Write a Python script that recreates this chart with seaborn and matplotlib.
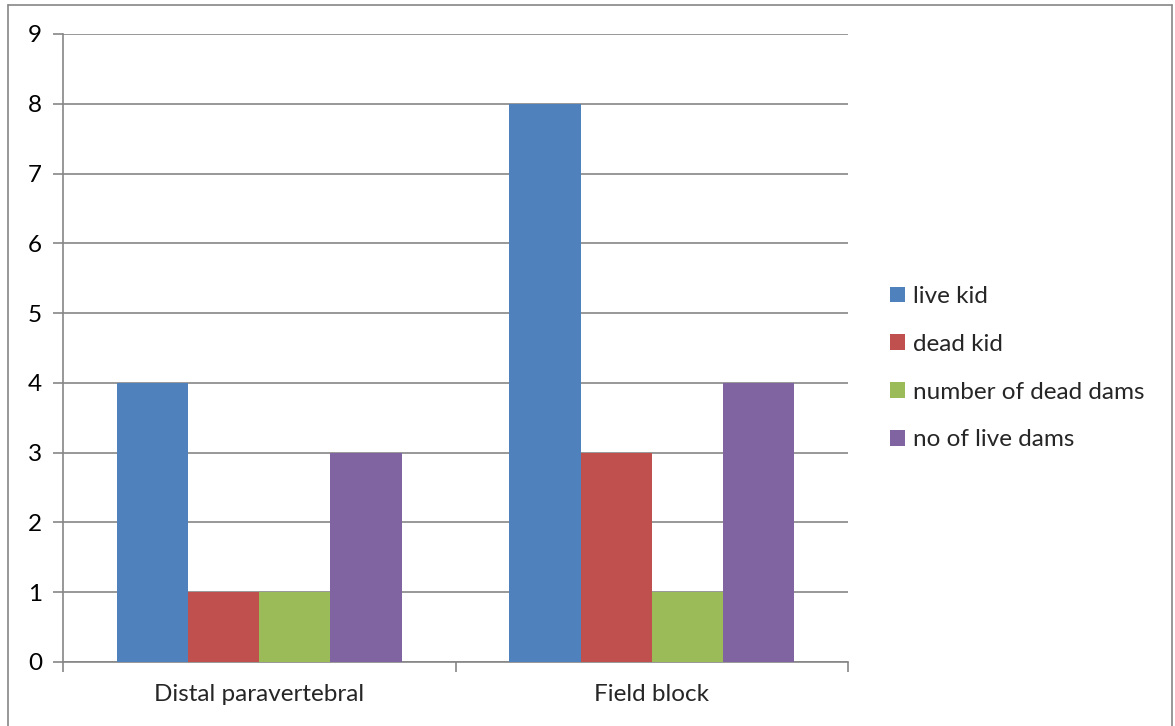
import matplotlib
matplotlib.use("Agg")
import matplotlib.pyplot as plt
import seaborn as sns
import pandas as pd
from matplotlib.patches import Patch
from matplotlib.lines import Line2D

categories = ["Distal paravertebral", "Field block"]
series = ["live kid", "dead kid", "number of dead dams", "no of live dams"]
live_kid = [4, 8]
dead_kid = [1, 3]
dead_dams = [1, 1]
live_dams = [3, 4]
colors = ["#4F81BD", "#C0504D", "#9BBB59", "#8064A2"]

rows = []
for s, vals in zip(series, [live_kid, dead_kid, dead_dams, live_dams]):
    for c, v in zip(categories, vals):
        rows.append({"category": c, "series": s, "value": v})
df = pd.DataFrame(rows)

sns.set_style("white")
plt.rcParams["font.family"] = ["Lato", "DejaVu Sans"]
FS = 17.5

W, H = 1175, 726
fig = plt.figure(figsize=(W / 100, H / 100), dpi=100)
ax = fig.add_axes([63 / W, 1 - 662 / H, (848 - 63) / W, (662 - 34) / H])

sns.barplot(data=df, x="category", y="value", hue="series", hue_order=series,
            order=categories, palette=colors, width=0.725, saturation=1,
            linewidth=0, legend=False, ax=ax, zorder=3)

ax.set_xlim(-0.5, 1.5)
ax.set_ylim(0, 9)
ax.set_yticks(range(0, 10))
ax.yaxis.grid(True, color="#868686", linewidth=1.2, zorder=0)
ax.set_axisbelow(True)
ax.set_xlabel("")
ax.set_ylabel("")
for sp in ["top", "right"]:
    ax.spines[sp].set_visible(False)
for sp in ["left", "bottom"]:
    ax.spines[sp].set_color("#868686")
    ax.spines[sp].set_linewidth(1.2)

ax.tick_params(axis="y", which="both", left=True, length=7, width=1.2,
               color="#868686", labelsize=FS, pad=8, labelcolor="black")
ax.set_xticks([0, 1])
ax.set_xticklabels(categories, fontsize=FS)
ax.tick_params(axis="x", which="major", bottom=False, pad=12)
ax.set_xticks([-0.5, 0.5, 1.5], minor=True)
ax.tick_params(axis="x", which="minor", bottom=True, length=7, width=1.2,
               color="#868686")

handles = [Patch(facecolor=c, edgecolor="none", label=s) for c, s in zip(colors, series)]
leg = fig.legend(handles=handles, loc="upper left",
                 bbox_to_anchor=(878 / W, 1 - 274 / H), frameon=False,
                 fontsize=FS, handlelength=0.62, handleheight=0.62,
                 handletextpad=0.3, labelspacing=1.1, borderpad=0)

# outer chart border
border_color = "#868686"
fig.add_artist(Line2D([8 / W, 8 / W], [0, 1 - 5 / H], transform=fig.transFigure,
                      color=border_color, linewidth=1.2))
fig.add_artist(Line2D([8 / W, 1172 / W], [1 - 5 / H, 1 - 5 / H], transform=fig.transFigure,
                      color=border_color, linewidth=1.2))
fig.add_artist(Line2D([1172 / W, 1172 / W], [0, 1 - 5 / H], transform=fig.transFigure,
                      color=border_color, linewidth=1.2))

fig.savefig("out.png", dpi=100, facecolor="white")
